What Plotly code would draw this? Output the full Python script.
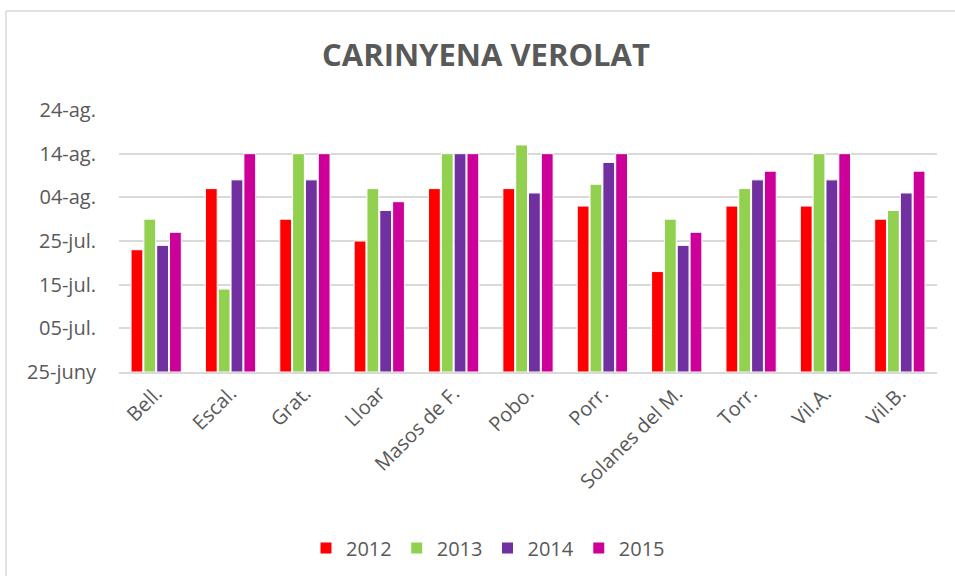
import pandas as pd
import plotly.graph_objects as go

categories = ["Bell.", "Escal.", "Grat.", "Lloar", "Masos de F.", "Pobo.", "Porr.",
              "Solanes del M.", "Torr.", "Vil.A.", "Vil.B."]

# harvest dates (month-day)
d2012 = ["07-23", "08-06", "07-30", "07-25", "08-06", "08-06", "08-02", "07-18", "08-02", "08-02", "07-30"]
d2013 = ["07-30", "07-14", "08-14", "08-06", "08-14", "08-16", "08-07", "07-30", "08-06", "08-14", "08-01"]
d2014 = ["07-24", "08-08", "08-08", "08-01", "08-14", "08-05", "08-12", "07-24", "08-08", "08-08", "08-05"]
d2015 = ["07-27", "08-14", "08-14", "08-03", "08-14", "08-14", "08-14", "07-27", "08-10", "08-14", "08-10"]

series_names = ["2012", "2013", "2014", "2015"]
series_colors = ["#FF0000", "#92D050", "#7030A0", "#CC0099"]

tick_dates = ["06-25", "07-05", "07-15", "07-25", "08-04", "08-14", "08-24"]
tick_labels = ["25-juny", "05-jul.", "15-jul.", "25-jul.", "04-ag.", "14-ag.", "24-ag."]

origin = pd.Timestamp("2000-06-25")


def to_days(md):
    return [(pd.Timestamp("2000-" + s) - origin).days for s in md]


fig = go.Figure()
for name, color, data in zip(series_names, series_colors, [d2012, d2013, d2014, d2015]):
    fig.add_trace(go.Bar(
        x=categories, y=to_days(data), name=name,
        marker=dict(color=color, line=dict(color="white", width=1)),
    ))

tickvals = to_days(tick_dates)

W, H = 955, 576
L, T, R, B = 119, 110, 18, 204
pw, ph = W - L - R, H - T - B

# chart frame (left and top edges visible in the reference)
fx0, fy_top = (6 - L) / pw, 1 + (T - 11) / ph
fx1, fy_bot = (W + 20 - L) / pw, -(H + 20 - T - ph) / ph
frame = dict(color="#D9D9D9", width=1.5)

fig.update_layout(
    width=W, height=H,
    margin=dict(l=L, r=R, t=T, b=B, autoexpand=False),
    paper_bgcolor="white", plot_bgcolor="white",
    font=dict(family="Open Sans", color="#595959", size=20),
    title=dict(text="<b>CARINYENA VEROLAT</b>", x=486 / W, xanchor="center",
               y=1 - 55 / H, yanchor="middle",
               font=dict(size=31, color="#595959", family="Open Sans")),
    barmode="group", bargap=0.31, bargroupgap=0.08,
    showlegend=True,
    legend=dict(orientation="h", xref="container", yref="container",
                x=488 / W, xanchor="center", y=1 - 548 / H, yanchor="middle",
                font=dict(size=20, color="#595959"), itemwidth=30,
                traceorder="normal"),
    xaxis=dict(showline=True, linecolor="#D9D9D9", linewidth=1.5, tickangle=-45,
               showgrid=False, ticks="", tickfont=dict(size=20, color="#595959")),
    yaxis=dict(range=[tickvals[0], tickvals[-1]], tickvals=tickvals, ticktext=tick_labels,
               showgrid=True, gridcolor="#D9D9D9", gridwidth=1.5, zeroline=False,
               showline=False, ticklabelstandoff=22,
               tickfont=dict(size=20, color="#595959")),
    shapes=[
        dict(type="line", xref="paper", yref="paper", x0=fx0, x1=fx0, y0=fy_bot, y1=fy_top,
             line=frame, layer="below"),
        dict(type="line", xref="paper", yref="paper", x0=fx0, x1=fx1, y0=fy_top, y1=fy_top,
             line=frame, layer="below"),
    ],
)

fig.write_html(
    "out.html",
    config={"displayModeBar": False},
    post_script="document.body.style.margin='0';document.body.style.overflow='hidden';",
)
